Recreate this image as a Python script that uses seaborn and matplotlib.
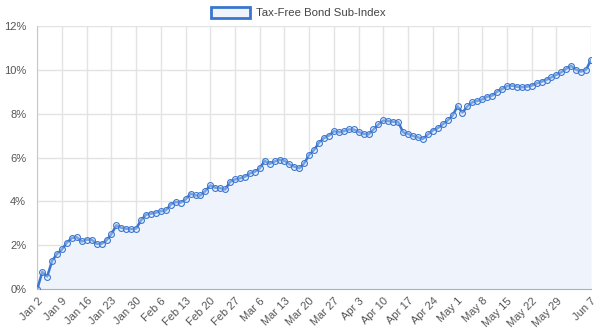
import numpy as np
import pandas as pd
import matplotlib
matplotlib.use("Agg")
import matplotlib.pyplot as plt
import seaborn as sns
from matplotlib.patches import Patch
from matplotlib.ticker import FuncFormatter, MultipleLocator

# ---- data ----
dates = pd.bdate_range("2019-01-02", "2019-06-07")
values = [
    0.00, 0.78, 0.57, 1.29, 1.60, 1.81, 2.12, 2.33, 2.36, 2.17,
    2.25, 2.25, 2.06, 2.06, 2.22, 2.51, 2.91, 2.79, 2.75, 2.73,
    2.76, 3.14, 3.39, 3.44, 3.48, 3.55, 3.59, 3.85, 3.97, 3.94,
    4.09, 4.35, 4.27, 4.27, 4.47, 4.73, 4.62, 4.60, 4.54, 4.89,
    5.00, 5.05, 5.12, 5.28, 5.35, 5.51, 5.85, 5.71, 5.82, 5.89,
    5.85, 5.69, 5.58, 5.51, 5.74, 6.12, 6.35, 6.68, 6.89, 7.00,
    7.20, 7.15, 7.20, 7.28, 7.28, 7.17, 7.08, 7.05, 7.28, 7.51,
    7.69, 7.66, 7.63, 7.62, 7.15, 7.08, 6.98, 6.92, 6.85, 7.05,
    7.23, 7.34, 7.51, 7.69, 7.92, 8.34, 8.05, 8.34, 8.52, 8.58,
    8.65, 8.77, 8.82, 9.00, 9.12, 9.25, 9.28, 9.23, 9.20, 9.23,
    9.28, 9.38, 9.46, 9.54, 9.66, 9.77, 9.89, 10.05, 10.18, 10.00,
    9.92, 10.00, 10.46,
]
series_name = "Tax-Free Bond Sub-Index"
date_labels = [f"{d.strftime('%b')} {d.day}" for d in dates]

df = pd.DataFrame({"idx": np.arange(len(values)), "value": values, "label": date_labels})

LINE = "#3a76cf"
FILL = "#eef3fc"
GRID = "#e3e3e3"

sns.set_style("white")
plt.rcParams["font.family"] = ["Liberation Sans", "DejaVu Sans"]

fig = plt.figure(figsize=(6.0, 3.33), dpi=100)
ax = fig.add_axes([37.3 / 600, 1 - 289 / 333, (591 - 37.3) / 600, (289 - 26) / 333])

ax.fill_between(df["idx"], 0, df["value"], color=FILL, zorder=1, linewidth=0)
sns.lineplot(data=df, x="idx", y="value", ax=ax, color=LINE, linewidth=1.8,
             marker="o", markersize=4.2, markeredgewidth=0.8,
             markerfacecolor=(0.92, 0.95, 1.0, 0.35), markeredgecolor=LINE, zorder=3)

ax.set_xlim(0, len(values) - 1)
ax.set_ylim(0, 12)
ax.yaxis.set_major_locator(MultipleLocator(2))
ax.yaxis.set_major_formatter(FuncFormatter(lambda v, p: f"{int(v)}%"))

tick_pos = list(range(0, len(values) - 5, 5)) + [len(values) - 1]
ax.set_xticks(tick_pos)
ax.set_xticklabels([date_labels[i] for i in tick_pos], rotation=45, ha="right",
                   rotation_mode="anchor")

ax.grid(True, color=GRID, linewidth=1.0)
ax.set_axisbelow(True)
ax.tick_params(axis="both", length=5, color=GRID, labelsize=8, labelcolor="#555555", pad=3)
ax.tick_params(axis="x", length=4, pad=1)
for s in ["top", "right"]:
    ax.spines[s].set_visible(False)
ax.spines["left"].set_color("#c8c8c8")
ax.spines["bottom"].set_color("#b0b0b0")
ax.set_xlabel("")
ax.set_ylabel("")

handle = Patch(facecolor=FILL, edgecolor=LINE, linewidth=2.0, label=series_name)
fig.legend(handles=[handle], loc="center", bbox_to_anchor=(0.497, 0.961), frameon=False,
           fontsize=8.2, handlelength=3.5, handleheight=1.0, handletextpad=0.5,
           labelcolor="#444444")

fig.savefig("out.png", dpi=100)
